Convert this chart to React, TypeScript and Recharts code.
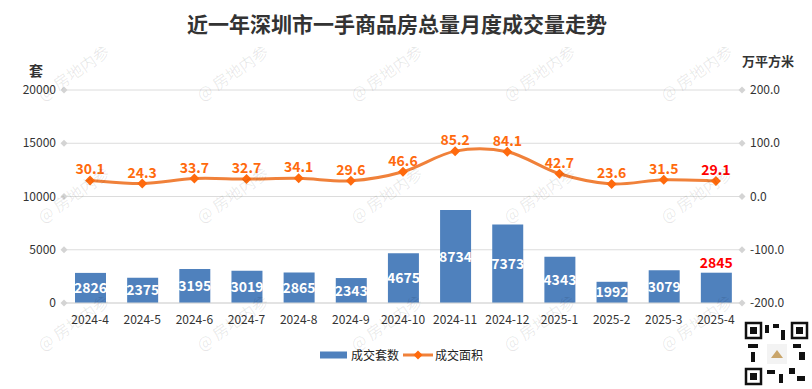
import { ComposedChart, Bar, Line, XAxis, YAxis, CartesianGrid, LabelList, Legend } from 'recharts'

const categories = ['2024-4', '2024-5', '2024-6', '2024-7', '2024-8', '2024-9', '2024-10', '2024-11', '2024-12', '2025-1', '2025-2', '2025-3', '2025-4']
const dealUnits = [2826, 2375, 3195, 3019, 2865, 2343, 4675, 8734, 7373, 4343, 1992, 3079, 2845]
const dealArea = [30.1, 24.3, 33.7, 32.7, 34.1, 29.6, 46.6, 85.2, 84.1, 42.7, 23.6, 31.5, 29.1]
const leftTicks = [0, 5000, 10000, 15000, 20000]
const rightTicks = [-200, -100, 0, 100, 200]

const chartData = categories.map((month, i) => ({
  month,
  units: dealUnits[i],
  area: dealArea[i],
}))

const FONT = '"Noto Sans CJK SC", "Noto Sans", sans-serif'
const LAST = categories.length - 1

const diamond = (cx: number, cy: number, r: number) =>
  `M${cx},${cy - r}L${cx + r},${cy}L${cx},${cy + r}L${cx - r},${cy}Z`

// Excel-style smoothed line (Catmull-Rom through every point)
function smoothCurve(context: any) {
  let pts: number[][] = []
  return {
    areaStart() {},
    areaEnd() {},
    lineStart() {
      pts = []
    },
    point(x: number, y: number) {
      pts.push([+x, +y])
    },
    lineEnd() {
      if (!pts.length) return
      context.moveTo(pts[0][0], pts[0][1])
      for (let i = 0; i < pts.length - 1; i++) {
        const p0 = pts[i - 1] || pts[i]
        const p1 = pts[i]
        const p2 = pts[i + 1]
        const p3 = pts[i + 2] || p2
        context.bezierCurveTo(
          p1[0] + (p2[0] - p0[0]) / 6,
          p1[1] + (p2[1] - p0[1]) / 6,
          p2[0] - (p3[0] - p1[0]) / 6,
          p2[1] - (p3[1] - p1[1]) / 6,
          p2[0],
          p2[1]
        )
      }
    },
  }
}

function LeftTick(props: any) {
  const { x, y, payload } = props
  return (
    <g>
      <text x={x} y={y} dy="0.35em" textAnchor="end" fontSize={12} fill="#333" fontFamily={FONT}>
        {payload.value}
      </text>
      <path d={diamond(x + 8, y, 3.5)} fill="#d4d4d4" />
    </g>
  )
}

function RightTick(props: any) {
  const { x, y, payload } = props
  return (
    <g>
      <text x={x} y={y} dy="0.35em" textAnchor="start" fontSize={12} fill="#333" fontFamily={FONT}>
        {Number(payload.value).toFixed(1)}
      </text>
      <path d={diamond(x - 8, y, 3.5)} fill="#d4d4d4" />
    </g>
  )
}

function BarValue(props: any) {
  const { x, y, width, height, value, index } = props
  if (index === LAST) {
    return (
      <text x={x + width / 2} y={y - 5} textAnchor="middle" fontSize={14} fontWeight="bold" fill="#ff0000" fontFamily={FONT}>
        {value}
      </text>
    )
  }
  return (
    <text x={x + width / 2} y={y + height / 2} dy="0.36em" textAnchor="middle" fontSize={14} fontWeight="bold" fill="#fff" fontFamily={FONT}>
      {value}
    </text>
  )
}

function LineValue(props: any) {
  const { x, y, value, index } = props
  return (
    <text x={x} y={y - 6} textAnchor="middle" fontSize={14} fontWeight="bold" fill={index === LAST ? '#ff0000' : '#ff6a0d'} fontFamily={FONT}>
      {Number(value).toFixed(1)}
    </text>
  )
}

function LegendContent() {
  const txt = { fontSize: 12, color: '#222', fontFamily: FONT }
  return (
    <div style={{ display: 'flex', justifyContent: 'center', alignItems: 'center', marginLeft: -9 }}>
      <svg width={27} height={8}><rect x={0} y={0.5} width={27} height={7} fill="#4f81bd" /></svg>
      <span style={{ ...txt, marginLeft: 4, marginRight: 4 }}>成交套数</span>
      <svg width={30} height={10}>
        <line x1={0} y1={5} x2={30} y2={5} stroke="#f0813a" strokeWidth={3} />
        <path d={diamond(15, 5, 4.5)} fill="#ff6a0d" />
      </svg>
      <span style={{ ...txt, marginLeft: 2 }}>成交面积</span>
    </div>
  )
}

const wmCols = [77, 236, 390, 543, 700]
const wmRows = [78, 200, 328]

export default function App() {
  return (
    <div style={{ position: 'absolute', left: 0, top: 0, width: 812, height: 389, background: '#fff', fontFamily: FONT }}>
      <div style={{ position: 'absolute', left: 0, top: 8, width: 794, textAlign: 'center', fontSize: 21, fontWeight: 'bold', color: '#333' }}>
        近一年深圳市一手商品房总量月度成交量走势
      </div>
      <div style={{ position: 'absolute', left: 29, top: 60, fontSize: 14, fontWeight: 'bold', color: '#333' }}>套</div>
      <div style={{ position: 'absolute', left: 742, top: 51, fontSize: 13, fontWeight: 'bold', color: '#333' }}>万平方米</div>
      <ComposedChart width={812} height={389} data={chartData} margin={{ top: 90, right: 0, bottom: 56, left: 0 }}>
        <CartesianGrid yAxisId="left" vertical={false} stroke="#dcdcdc" />
        <XAxis
          dataKey="month"
          height={30}
          axisLine={{ stroke: '#d9d9d9' }}
          tickLine={false}
          tickMargin={6}
          interval={0}
          tick={{ fontSize: 12, fill: '#333', fontFamily: FONT }}
        />
        <YAxis
          yAxisId="left"
          width={64}
          domain={[0, 20000]}
          ticks={leftTicks}
          axisLine={false}
          tickLine={false}
          tickSize={0}
          tickMargin={8}
          tick={<LeftTick />}
        />
        <YAxis
          yAxisId="right"
          orientation="right"
          width={70}
          domain={[-200, 200]}
          ticks={rightTicks}
          axisLine={false}
          tickLine={false}
          tickSize={0}
          tickMargin={8}
          tick={<RightTick />}
        />
        <Legend
          layout="horizontal"
          verticalAlign="middle"
          align="center"
          wrapperStyle={{ top: 346, left: 0, width: 812 }}
          content={<LegendContent />}
        />
        <Bar yAxisId="left" dataKey="units" name="成交套数" fill="#4f81bd" barSize={31} isAnimationActive={false}>
          <LabelList dataKey="units" content={<BarValue />} />
        </Bar>
        <Line
          yAxisId="right"
          dataKey="area"
          name="成交面积"
          type={smoothCurve as any}
          stroke="#f0813a"
          strokeWidth={3}
          isAnimationActive={false}
          dot={(p: any) => <path key={`d-${p.index}`} d={diamond(p.cx, p.cy, 5)} fill="#ff6a0d" />}
          activeDot={false}
        >
          <LabelList dataKey="area" content={<LineValue />} />
        </Line>
      </ComposedChart>
      <svg width={812} height={389} style={{ position: 'absolute', left: 0, top: 0, pointerEvents: 'none' }}>
        {wmRows.map((wy) =>
          wmCols.map((wx) => (
            <text
              key={`${wx}-${wy}`}
              x={wx}
              y={wy}
              textAnchor="middle"
              fontSize={16}
              fill="rgba(0,0,0,0.09)"
              fontFamily={FONT}
              transform={`rotate(-35 ${wx} ${wy})`}
            >
              @ 房地内参
            </text>
          ))
        )}
        <g transform="translate(745,322)">
          <rect x={0} y={0} width={63} height={63} fill="#fff" />
          {[[0, 0], [46, 0], [0, 46]].map(([fx, fy]) => (
            <g key={`${fx}-${fy}`}>
              <rect x={fx + 1} y={fy + 1} width={15} height={15} fill="none" stroke="#111" strokeWidth={2.5} />
              <rect x={fx + 5} y={fy + 5} width={7} height={7} fill="#111" />
            </g>
          ))}
          <rect x={20} y={3} width={4} height={8} fill="#111" />
          <rect x={28} y={2} width={6} height={4} fill="#111" />
          <rect x={36} y={8} width={4} height={10} fill="#111" />
          <rect x={3} y={22} width={10} height={4} fill="#111" />
          <rect x={6} y={30} width={4} height={10} fill="#111" />
          <rect x={48} y={22} width={8} height={4} fill="#111" />
          <rect x={54} y={30} width={6} height={8} fill="#111" />
          <rect x={22} y={48} width={8} height={4} fill="#111" />
          <rect x={34} y={52} width={4} height={9} fill="#111" />
          <rect x={44} y={46} width={6} height={6} fill="#111" />
          <rect x={52} y={54} width={8} height={5} fill="#111" />
          <rect x={22} y={22} width={20} height={20} fill="#f3f3f3" />
          <path d="M26,36 L32,28 L38,36 Z" fill="#c9a56a" />
        </g>
      </svg>
    </div>
  )
}
